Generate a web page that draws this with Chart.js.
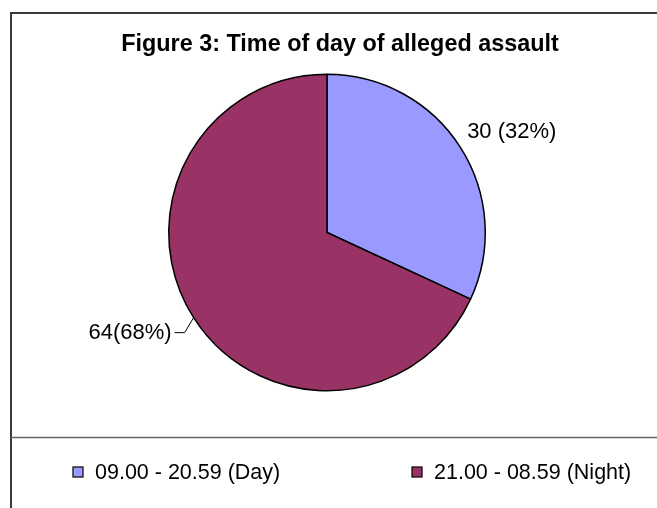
<!DOCTYPE html>
<html><head><meta charset="utf-8">
<script src="https://cdn.jsdelivr.net/npm/chart.js@4"></script>
<style>html,body{margin:0;padding:0;background:#fff}#w{width:657px;height:508px}</style>
</head>
<body><div id="w"><canvas id="c" width="657" height="508"></canvas></div>
<script>
const chartTitle = 'Figure 3: Time of day of alleged assault';
const categories = ['09.00 - 20.59 (Day)', '21.00 - 08.59 (Night)'];
const counts = [30, 64];
const pointLabels = ['30 (32%)', '64(68%)'];
const colors = ['#9999FF', '#993366'];

const FONT = '"Liberation Sans", Arial, sans-serif';

const decor = {
  id: 'decor',
  afterDraw(chart) {
    const ctx = chart.ctx;
    ctx.save();
    // outer frame (continues past right/bottom edge)
    ctx.strokeStyle = '#3a3a3a';
    ctx.lineWidth = 2;
    ctx.strokeRect(11, 13, 700, 600);
    // legend separator
    ctx.strokeStyle = '#666';
    ctx.lineWidth = 1.5;
    ctx.beginPath(); ctx.moveTo(11, 437.5); ctx.lineTo(657, 437.5); ctx.stroke();

    // title
    ctx.fillStyle = '#000';
    ctx.font = 'bold 23.4px ' + FONT;
    ctx.textAlign = 'center';
    ctx.textBaseline = 'middle';
    ctx.fillText(chartTitle, 340, 45);

    // data labels
    const meta = chart.getDatasetMeta(0);
    ctx.font = '22px ' + FONT;
    meta.data.forEach((arc, i) => {
      const p = arc.getProps(['x', 'y', 'startAngle', 'endAngle', 'outerRadius'], true);
      const mid = (p.startAngle + p.endAngle) / 2;
      const c = Math.cos(mid), s = Math.sin(mid);
      if (c >= 0) {
        const x = p.x + c * (p.outerRadius + 8);
        const y = p.y + s * (p.outerRadius + 8) - 11;
        ctx.textAlign = 'left';
        ctx.fillText(pointLabels[i], x, y);
      } else {
        const x0 = p.x + c * p.outerRadius, y0 = p.y + s * p.outerRadius;
        const x1 = x0 - 9, y1 = y0 + 15;
        const x2 = x1 - 10;
        ctx.strokeStyle = '#000';
        ctx.lineWidth = 1;
        ctx.beginPath(); ctx.moveTo(x0, y0); ctx.lineTo(x1, y1); ctx.lineTo(x2, y1); ctx.stroke();
        ctx.textAlign = 'right';
        ctx.fillText(pointLabels[i], x2 - 3, y1);
      }
    });

    // legend
    const legendX = [73, 412];
    const legendY = 472;
    ctx.font = '21.5px ' + FONT;
    ctx.textAlign = 'left';
    categories.forEach((name, i) => {
      ctx.fillStyle = colors[i];
      ctx.fillRect(legendX[i], legendY - 5, 10, 10);
      ctx.strokeStyle = '#000';
      ctx.lineWidth = 1.2;
      ctx.strokeRect(legendX[i], legendY - 5, 10, 10);
      ctx.fillStyle = '#000';
      ctx.fillText(name, legendX[i] + 22, legendY + 1);
    });
    ctx.restore();
  }
};

new Chart(document.getElementById('c'), {
  type: 'pie',
  data: {
    labels: categories,
    datasets: [{
      data: counts,
      backgroundColor: colors,
      borderColor: '#000',
      borderWidth: 1.5,
      hoverOffset: 0
    }]
  },
  options: {
    responsive: false,
    devicePixelRatio: 1,
    animation: false,
    layout: { padding: { left: 168, right: 171, top: 73, bottom: 116 } },
    plugins: { legend: { display: false }, title: { display: false }, tooltip: { enabled: false } }
  },
  plugins: [decor]
});
</script>
</body></html>
